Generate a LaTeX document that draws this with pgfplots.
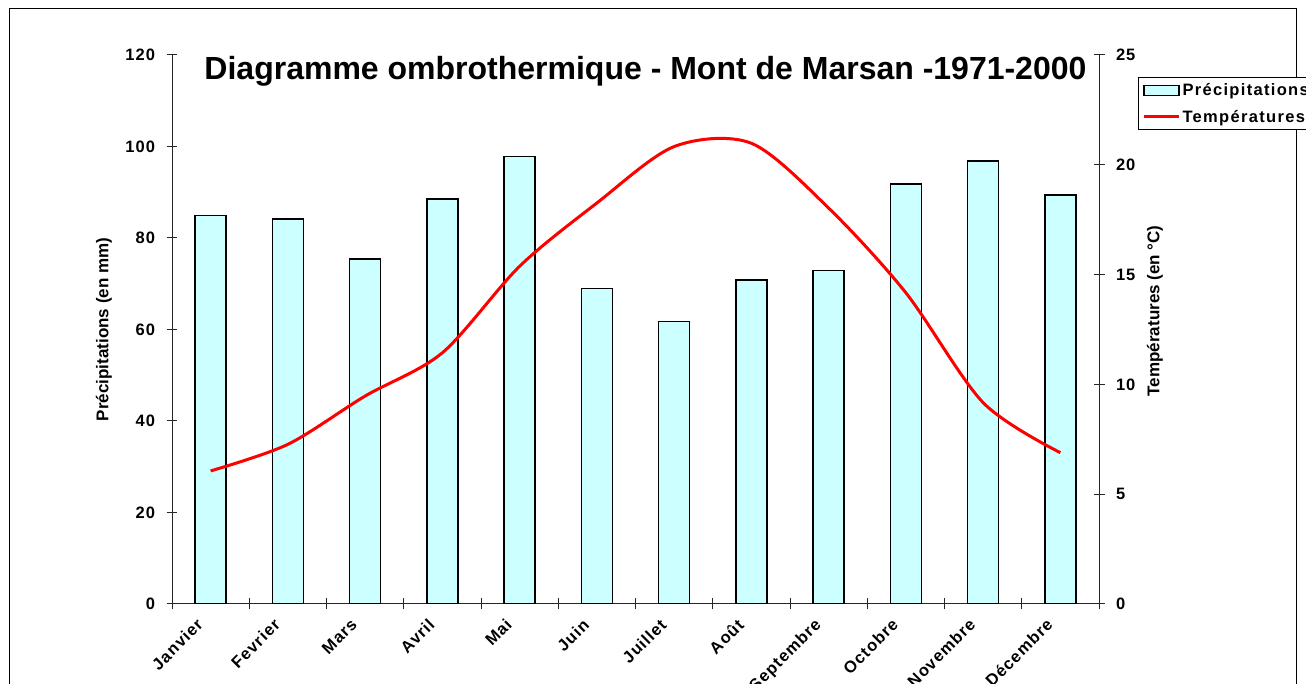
\documentclass[border=0pt]{standalone}
\usepackage{fontspec}
\setmainfont{Liberation Sans}
\usepackage{pgfplots}
\pgfplotsset{compat=1.18}
\definecolor{barcyan}{HTML}{CCFFFF}
\begin{document}
\begin{tikzpicture}[x=1pt,y=1pt]
\pgfplotsset{
  common/.style={
    scale only axis, width=927pt, height=549pt,
    at={(172pt,80pt)}, anchor=south west,
    xmin=-0.5, xmax=11.5,
    tick align=center, major tick length=11pt, minor tick length=11pt,
    /pgf/number format/assume math mode=true,
    tick label style={font=\bfseries\fontsize{16.5}{16.5}\selectfont\addfontfeature{LetterSpace=6}},
    axis line style={line width=1pt, black!85},
    tick style={line width=1pt, black!85},
    label style={font=\bfseries\fontsize{17}{17}\selectfont},
  }
}
\draw[line width=1pt] (9,-20) -- (9,675) -- (1296,675) -- (1296,-20);
\begin{axis}[common,
  axis x line*=bottom, axis y line*=left,
  ymin=0, ymax=120, ytick={0,20,...,120},
  xtick={0,...,11},
  xticklabels={Janvier,Fevrier,Mars,Avril,Mai,Juin,Juillet,Août,Septembre,Octobre,Novembre,Décembre},
  every major x tick/.append style={draw=none},
  minor xtick={-0.5,0.5,...,11.5},
  xticklabel style={rotate=45, anchor=north east, xshift=-13pt, yshift=8.5pt},
  yticklabel style={xshift=-8pt},
  ylabel={Précipitations (en mm)},
  ylabel style={at={(axis description cs:-0.0734,0.5)}, anchor=center},
]
\addplot[ybar, bar width=31pt, fill=barcyan, draw=black, line width=1.5pt] coordinates {
(0,84.9) (1,84.2) (2,75.4) (3,88.5) (4,97.8) (5,69.0)
(6,61.7) (7,70.8) (8,72.9) (9,91.8) (10,96.8) (11,89.4)};
\end{axis}
\begin{axis}[common,
  axis y line*=right, axis x line=none,
  ymin=0, ymax=25, ytick={0,5,...,25},
  yticklabel style={xshift=8pt},
  ylabel={Températures (en °C)},
  ylabel style={at={(axis description cs:1.0604,0.534)}, anchor=center},
  legend style={at={(1.0421,0.9599)}, anchor=north west, draw=black, line width=1pt,
    font=\bfseries\fontsize{16.5}{16.5}\selectfont\addfontfeature{LetterSpace=8},
    inner xsep=4pt, inner ysep=4pt, row sep=9pt},
  legend cell align=left,
]
\addlegendimage{legend image code/.code={\draw[fill=barcyan,draw=black,line width=1.5pt] (0pt,-5pt) rectangle (35pt,5pt);}}
\addlegendentry{Précipitations}
\addplot[red, line width=3pt, smooth, legend image code/.code={\draw[red,line width=3pt] (0pt,0pt) -- (35pt,0pt);}] coordinates {
(0,6.06) (1,7.27) (2,9.47) (3,11.44) (4,15.38) (5,18.26)
(6,20.83) (7,20.98) (8,18.03) (9,14.17) (10,9.17) (11,6.89)};
\addlegendentry{Températures}
\end{axis}
\node[font=\bfseries\fontsize{32}{36}\selectfont, anchor=base] at (645.5,604) {Diagramme ombrothermique - Mont de Marsan -1971-2000};
\pgfresetboundingbox
\path[use as bounding box] (0,0) rectangle (1306,684);
\end{tikzpicture}
\end{document}
